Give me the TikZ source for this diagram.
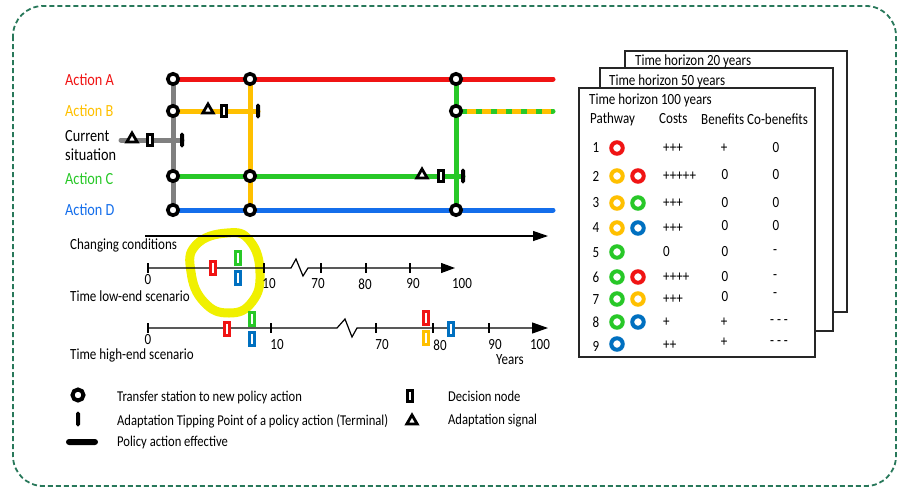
\documentclass[tikz,border=0pt]{standalone}
\usepackage{fontspec}
\setmainfont{Carlito}[FakeStretch=0.84]
\usetikzlibrary{arrows.meta,backgrounds,shapes.geometric}
\definecolor{cRed}{RGB}{240,20,20}
\definecolor{cOrg}{RGB}{255,192,0}
\definecolor{cGrn}{RGB}{40,200,40}
\definecolor{cBlu}{RGB}{20,110,235}
\definecolor{cTBlu}{RGB}{0,112,192}
\definecolor{cGray}{RGB}{128,128,128}
\definecolor{cFrame}{RGB}{40,120,90}
\definecolor{cYel}{RGB}{240,240,0}
\newcommand{\fsAct}{\fontsize{17}{19}\selectfont}
\newcommand{\fsMain}{\fontsize{15.5}{18}\selectfont}
\newcommand{\fsLeg}{\fontsize{15}{17}\selectfont}
\tikzset{
  station/.style={circle,draw=black,line width=3.6pt,fill=white,minimum size=10.5pt,inner sep=0pt},
  dnode/.style={rectangle,draw=black,line width=3pt,fill=white,minimum width=4.5pt,minimum height=11.5pt,inner sep=0pt},
  signal/.style={regular polygon,regular polygon sides=3,draw=black,line width=2.8pt,fill=white,minimum size=12pt,inner sep=0pt},
  termbar/.style={rectangle,fill=black,minimum width=4pt,minimum height=15pt,inner sep=0pt,rounded corners=1.9pt},
  actline/.style={line width=5pt,line cap=round},
  scenmark/.style={rectangle,draw=#1,line width=2.6pt,fill=white,minimum width=5pt,minimum height=12.5pt,inner sep=0pt},
  pwc/.style={circle,draw=#1,line width=4pt,fill=white,minimum size=11.5pt,inner sep=0pt},
  axisline/.style={line width=1.2pt,black},
  lbl/.style={inner sep=0pt,font=\fsMain},
  lblw/.style={anchor=west,inner sep=0pt,font=\fsMain},
  sheet/.style={draw=black!85,line width=1.2pt,fill=white}
}
\begin{document}
\begin{tikzpicture}[x=1pt,y=-1pt]
\useasboundingbox (0,0) rectangle (903,491);
% outer frame
\draw[cFrame,line width=1.8pt,dash pattern=on 5pt off 3pt,rounded corners=30pt] (13,6) rectangle (896,486);

% action labels
\node[anchor=west,inner sep=0pt,font=\fsAct,text=cRed] (labA) at (65,80) {Action A};
\node[anchor=west,inner sep=0pt,font=\fsAct,text=cOrg] (labB) at (65,111) {Action B};
\node[anchor=west,inner sep=0pt,font=\fsAct,align=left] (labCur) at (65,146) {Current\\situation};
\node[anchor=west,inner sep=0pt,font=\fsAct,text=cGrn] (labC) at (65,179) {Action C};
\node[anchor=west,inner sep=0pt,font=\fsAct,text=cBlu] (labD) at (65,210) {Action D};

% stations
\node[station] (A1) at (173,79) {};
\node[station] (A2) at (250,79) {};
\node[station] (A3) at (456,79) {};
\node[station] (B1) at (173,111) {};
\node[station] (B3) at (456,111) {};
\node[station] (C1) at (173,176) {};
\node[station] (C2) at (250,176) {};
\node[station] (D1) at (173,210) {};
\node[station] (D2) at (250,210) {};
\node[station] (D3) at (456,210) {};
\coordinate (Aend) at (553,79);
\coordinate (Bend) at (553,111);
\coordinate (Dend) at (553,210);
\coordinate (Cur0) at (121,140);

% terminals, signals, decision nodes
\node[termbar] (BT) at (258,111) {};
\node[termbar] (CurT) at (182,140) {};
\node[termbar] (CT) at (463,176) {};
\node[signal] (BS) at (208,110) {};
\node[dnode] (BD) at (224,111) {};
\node[signal] (CurS) at (132,139) {};
\node[dnode] (CurD) at (150,140) {};
\node[signal] (CS) at (422,175) {};
\node[dnode] (CD) at (441,176) {};

\begin{pgfonlayer}{background}
\draw[cYel,line width=9pt] plot[smooth cycle,tension=0.8] coordinates {(227,233) (196,245) (191,272) (204,302) (229,313) (252,302) (260,273) (250,241)};
\draw[actline,cGray] (A1.center) -- (D1.center);
\draw[actline,cOrg] (A2.center) -- (D2.center);
\draw[actline,cGrn] (A3.center) -- (D3.center);
\draw[actline,cRed] (A1.center) -- (Aend);
\draw[actline,cOrg] (B1.center) -- (BT.center);
\draw[actline,cGray] (Cur0) -- (CurT.center);
\draw[actline,cGrn] (C1.center) -- (CT.center);
\draw[actline,cBlu] (D1.center) -- (Dend);
\draw[actline,cGrn] (B3.center) -- (Bend);
\draw[line width=5pt,cOrg,dash pattern=on 9pt off 6pt,dash phase=-4pt] (B3.east) -- (Bend);
\end{pgfonlayer}

% changing conditions
\coordinate (cc0) at (145,236);
\coordinate (cc1) at (548,236);
\draw[axisline,-{Triangle[length=15pt,width=10pt]}] (cc0) -- (cc1);
\node[lblw] (labCC) at (70,245) {Changing conditions};

% low-end axis
\coordinate (L0) at (147,268);
\coordinate (Lend) at (455,268);
\draw[axisline,-{Triangle[length=14pt,width=10pt]}] (L0) -- (291,268) -- (296,259) -- (303,276) -- (308,268) -- (Lend);
\foreach \x in {148,264,321,366,410} \draw[axisline] (\x,263) -- (\x,273);
\node[lbl] (l0) at (148,280) {0};
\node[lbl] (l10) at (269,284) {10};
\node[lbl] (l70) at (318,284) {70};
\node[lbl] (l80) at (365,284) {80};
\node[lbl] (l90) at (413,284) {90};
\node[lbl] (l100) at (462,284) {100};
\node[lblw] (labLow) at (70,296) {Time low-end scenario};
\node[scenmark=cRed] (lr) at (213,268) {};
\node[scenmark=cGrn] (lg) at (238,258) {};
\node[scenmark=cTBlu] (lb) at (238,278) {};

% high-end axis
\coordinate (H0) at (147,328);
\coordinate (Hend) at (548,328);
\draw[axisline,-{Triangle[length=16pt,width=11pt]}] (H0) -- (337,328) -- (345,319) -- (352,337) -- (357,328) -- (Hend);
\foreach \x in {148,271,376,433,489} \draw[axisline] (\x,323) -- (\x,333);
\node[lbl] (h0) at (148,340) {0};
\node[lbl] (h10) at (277,345) {10};
\node[lbl] (h70) at (382,345) {70};
\node[lbl] (h80) at (440,345) {80};
\node[lbl] (h90) at (495,345) {90};
\node[lbl] (h100) at (540,345) {100};
\node[lbl] (yrs) at (510,360) {Years};
\node[lblw] (labHigh) at (70,355) {Time high-end scenario};
\node[scenmark=cRed] (hr1) at (227,329) {};
\node[scenmark=cGrn] (hg) at (252,319) {};
\node[scenmark=cTBlu] (hb1) at (252,339) {};
\node[scenmark=cRed] (hr2) at (426,318) {};
\node[scenmark=cOrg] (ho) at (426,338) {};
\node[scenmark=cTBlu] (hb2) at (451,329) {};

% table sheets
\draw[sheet] (625,51) rectangle (847,312);
\draw[sheet] (600,68) rectangle (833,331);
\draw[sheet] (579,88) rectangle (815,357);
\node[lblw] (t20) at (635,61) {Time horizon 20 years};
\node[lblw] (t50) at (609,81) {Time horizon 50 years};
\node[lblw] (t100) at (589,100) {Time horizon 100 years};
\node[lblw] (hPath) at (590,119) {Pathway};
\node[lblw] (hCost) at (659,119) {Costs};
\node[lblw] (hBen) at (701,119) {Benefits};
\node[lblw] (hCo) at (747,119) {Co-benefits};

% rows
\node[lbl] (n1) at (596,148) {1};
\node[pwc=cRed] (p1a) at (617,148) {};
\node[lblw] (c1) at (663,148) {+++};
\node[lbl] (b1) at (724,148) {+};
\node[lbl] (o1) at (776,148) {0};

\node[lbl] (n2) at (596,176) {2};
\node[pwc=cOrg] (p2a) at (617,176) {};
\node[pwc=cRed] (p2b) at (638,176) {};
\node[lblw] (c2) at (663,176) {+++++};
\node[lbl] (b2) at (725,175) {0};
\node[lbl] (o2) at (776,175) {0};

\node[lbl] (n3) at (596,203) {3};
\node[pwc=cOrg] (p3a) at (617,203) {};
\node[pwc=cGrn] (p3b) at (638,203) {};
\node[lblw] (c3) at (663,203) {+++};
\node[lbl] (b3) at (725,203) {0};
\node[lbl] (o3) at (776,203) {0};

\node[lbl] (n4) at (596,228) {4};
\node[pwc=cOrg] (p4a) at (617,228) {};
\node[pwc=cTBlu] (p4b) at (638,228) {};
\node[lblw] (c4) at (663,228) {+++};
\node[lbl] (b4) at (725,226) {0};
\node[lbl] (o4) at (776,226) {0};

\node[lbl] (n5) at (596,253) {5};
\node[pwc=cGrn] (p5a) at (617,252) {};
\node[lblw] (c5) at (663,252) {0};
\node[lbl] (b5) at (725,252) {0};
\node[lbl] (o5) at (775,252) {-};

\node[lbl] (n6) at (596,277) {6};
\node[pwc=cGrn] (p6a) at (617,277) {};
\node[pwc=cRed] (p6b) at (638,277) {};
\node[lblw] (c6) at (663,277) {++++};
\node[lbl] (b6) at (725,277) {0};
\node[lbl] (o6) at (775,277) {-};

\node[lbl] (n7) at (596,300) {7};
\node[pwc=cGrn] (p7a) at (617,299) {};
\node[pwc=cOrg] (p7b) at (638,299) {};
\node[lblw] (c7) at (663,299) {+++};
\node[lbl] (b7) at (725,297) {0};
\node[lbl] (o7) at (775,295) {-};

\node[lbl] (n8) at (596,322) {8};
\node[pwc=cGrn] (p8a) at (617,322) {};
\node[pwc=cTBlu] (p8b) at (638,322) {};
\node[lblw] (c8) at (663,322) {+};
\node[lbl] (b8) at (724,322) {+};
\node[lbl] (o8) at (779,322) {- - -};

\node[lbl] (n9) at (596,346) {9};
\node[pwc=cTBlu] (p9a) at (617,344) {};
\node[lblw] (c9) at (663,345) {++};
\node[lbl] (b9) at (724,342) {+};
\node[lbl] (o9) at (779,343) {- - -};

% legend
\node[station,minimum size=11pt,line width=4pt] (legS) at (78,395) {};
\node[termbar] (legT) at (78,419) {};
\node[rectangle,fill=black,minimum width=32pt,minimum height=6pt,inner sep=0pt,rounded corners=3pt] (legE) at (82,442) {};
\node[dnode] (legD) at (410,396) {};
\node[signal] (legA) at (412,421) {};
\node[anchor=west,inner sep=0pt,font=\fsLeg] (legSt) at (117,397) {Transfer station to new policy action};
\node[anchor=west,inner sep=0pt,font=\fsLeg] (legTt) at (117,421) {Adaptation Tipping Point of a policy action (Terminal)};
\node[anchor=west,inner sep=0pt,font=\fsLeg] (legEt) at (117,442) {Policy action effective};
\node[anchor=west,inner sep=0pt,font=\fsLeg] (legDt) at (448,396) {Decision node};
\node[anchor=west,inner sep=0pt,font=\fsLeg] (legAt) at (448,421) {Adaptation signal};
\end{tikzpicture}
\end{document}
